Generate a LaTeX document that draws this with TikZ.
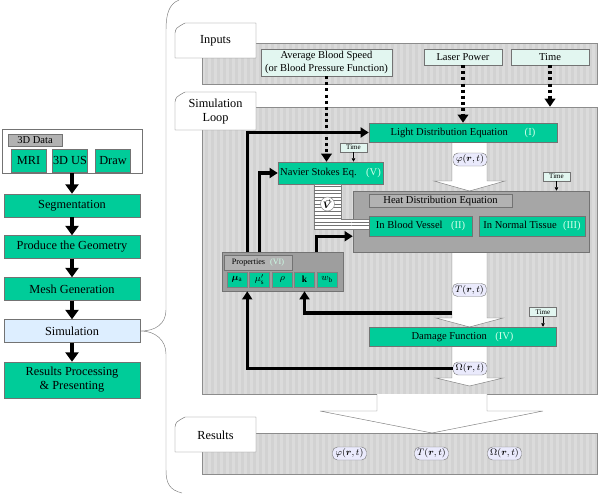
\documentclass[tikz,border=0pt]{standalone}
\usepackage{amsmath,amssymb,bm}
\usepackage{fontspec}
\setmainfont{Liberation Serif}
\usepackage{tikz}
\usetikzlibrary{arrows.meta,patterns}
\definecolor{boxgreen}{RGB}{0,204,153}
\definecolor{numwhite}{RGB}{205,255,232}
\definecolor{simblue}{RGB}{221,238,255}
\definecolor{bandgray}{RGB}{210,210,210}
\definecolor{inpfill}{RGB}{226,246,240}
\definecolor{lavender}{RGB}{234,234,252}

\begin{document}
\begin{tikzpicture}[x=0.3mm,y=-0.3mm,
    flowbox/.style={draw=black!55,fill=boxgreen,inner sep=0pt,minimum width=40.8mm,minimum height=6.9mm,font=\fontsize{10.5}{12}\selectfont},
    srcbox/.style={draw=black!55,fill=boxgreen,inner sep=0pt,minimum width=10.5mm,minimum height=6.9mm,font=\fontsize{10.5}{12}\selectfont},
    graylab/.style={draw=black!55,fill=black!30,inner sep=0pt,font=\fontsize{9}{10}\selectfont},
    greenbox/.style={draw=black!55,fill=boxgreen,inner sep=0pt,font=\fontsize{9}{10.5}\selectfont},
    inbox/.style={draw=black!55,fill=inpfill,inner sep=0pt,align=center,font=\fontsize{9}{10.5}\selectfont},
    timebox/.style={draw=black!55,fill=inpfill,inner sep=0pt,minimum width=8.1mm,minimum height=2.7mm,font=\fontsize{6}{7}\selectfont},
    band/.style={draw=black!45,fill=bandgray,inner sep=0pt,minimum width=118.5mm,
      path picture={\foreach \i in {0,...,70}{\fill[white,opacity=0.22] ([xshift=\i*1.8mm]path picture bounding box.south west) rectangle ++(0.8mm,90mm);}}},
    tabline/.style={draw=black!55,fill=white},
    tablabel/.style={font=\fontsize{10.5}{12.5}\selectfont,align=center,inner sep=0pt},
    lab/.style={draw=black!50,fill=lavender,rounded corners=1.5mm,inner sep=1pt,minimum width=10.2mm,minimum height=3.9mm,font=\fontsize{8}{9}\selectfont},
    pbox/.style={draw=black!50,fill=boxgreen,inner sep=0pt,minimum width=6mm,minimum height=4.5mm,font=\fontsize{8}{9}\selectfont},
    blockarrow/.style={draw=black!50,fill=white},
    flowarrow/.style={line width=3.6pt,-{Triangle[width=11pt,length=8pt]}},
    fb/.style={line width=2.8pt,-{Triangle[width=8.5pt,length=7pt]}},
    dotarrow/.style={line width=2.6pt,dash pattern=on 2.6pt off 2.6pt,-{Triangle[width=9pt,length=7pt]}},
    thinarrow/.style={line width=0.6pt,-{Triangle[width=3pt,length=3pt]}}]
  \useasboundingbox (0,0) rectangle (600,493);

  % left column
  \node[draw=black!55,fill=white,minimum width=42mm,minimum height=13.2mm] (data) at (72,151) {};
  \node[graylab,minimum width=16.2mm,minimum height=3.6mm] (datalab) at (35,140) {3D Data};
  \node[srcbox] (mri) at (28.5,160.5) {MRI};
  \node[srcbox] (us) at (70,160.5) {3D US};
  \node[srcbox] (drw) at (113,160.5) {Draw};
  \node[flowbox] (seg) at (72,205.5) {Segmentation};
  \node[flowbox] (geo) at (72,247) {Produce the Geometry};
  \node[flowbox] (mesh) at (72,289) {Mesh Generation};
  \node[flowbox,fill=simblue] (sim) at (72,331) {Simulation};
  \node[flowbox,minimum height=10.8mm,align=center] (res) at (72,380) {Results Processing\\\& Presenting};
  \draw[flowarrow] (data) -- (seg);
  \draw[flowarrow] (seg) -- (geo);
  \draw[flowarrow] (geo) -- (mesh);
  \draw[flowarrow] (mesh) -- (sim);
  \draw[flowarrow] (sim) -- (res);

  % brace
  \draw[black!50] (179,0) .. controls (169,4) and (166,14) .. (166,30) -- (166,310)
    .. controls (166,324) and (155,331) .. (141,331) .. controls (155,331) and (166,340) .. (166,354)
    -- (166,470) .. controls (166,484) and (170,490) .. (182,493);

  % bands
  \node[band,minimum height=12.3mm] (inband) at (399.5,63.5) {};
  \node[band,minimum height=86.1mm] (loopband) at (399.5,250.5) {};
  \draw[blockarrow] (377,394) -- (377,411) -- (320,411) -- (432,433) -- (543,411) -- (487,411) -- (487,394);
  \node[band,minimum height=12.3mm] (resband) at (399.5,453.5) {};

  % tabs
  \draw[tabline] (175,58) -- (175,33) .. controls (176,28) .. (185,23) -- (256,23) -- (256,58) -- cycle;
  \node[tablabel] (inputs) at (215.5,41) {Inputs};
  \draw[tabline] (175,130) -- (175,102) .. controls (176,97) .. (185,92) -- (256,92) -- (256,130) -- cycle;
  \node[tablabel] (looptab) at (215.5,111.5) {Simulation\\Loop};
  \draw[tabline] (175,452) -- (175,427) .. controls (176,422) .. (185,417) -- (256,417) -- (256,452) -- cycle;
  \node[tablabel] (restab) at (215.5,435) {Results};

  % inputs
  \node[inbox,minimum width=39.3mm,minimum height=8.1mm] (speed) at (326.5,62.5) {Average Blood Speed\\(or Blood Pressure Function)};
  \node[inbox,minimum width=23.4mm,minimum height=4.8mm] (laser) at (463,57) {Laser Power};
  \node[inbox,minimum width=23.4mm,minimum height=4.8mm] (tin) at (550,57) {Time};

  % white arrows in the loop
  \draw[blockarrow] (452,142) -- (452,181) -- (434,181) -- (469.5,191) -- (505,181) -- (487,181) -- (487,142);
  \draw[blockarrow] (452,252) -- (452,318) -- (436,318) -- (469.5,327) -- (503,318) -- (487,318) -- (487,252);
  \draw[blockarrow] (452,346) -- (452,378) -- (436,378) -- (469.5,386) -- (503,378) -- (487,378) -- (487,346);

  % loop boxes
  \node[greenbox,minimum width=56.4mm,minimum height=5.7mm] (lde) at (463,132.5)
    {Light Distribution Equation\hspace{1.6em}\textcolor{numwhite}{(I)}};
  \node[greenbox,minimum width=31.5mm,minimum height=6.6mm] (ns) at (330.5,173)
    {Navier Stokes Eq.\hspace{0.9em}\textcolor{numwhite}{(V)}};
  \node[draw=black!55,fill=black!35,minimum width=70.8mm,minimum height=18.3mm] (heat) at (471,221.5) {};
  \node[graylab,minimum width=42.9mm,minimum height=3.9mm] (heatlab) at (440.5,200.5) {Heat Distribution Equation};
  \draw[black!50,fill=white] (314,184) -- (314,229) -- (369,229) -- (369,219) -- (341,219) -- (341,184) -- cycle;
  \fill[pattern=horizontal lines,pattern color=black!55] (314,184) -- (314,229) -- (369,229) -- (369,219) -- (341,219) -- (341,184) -- cycle;
  \node[circle,draw=black!50,fill=white,inner sep=0.3pt,minimum size=4.2mm,font=\fontsize{8}{9}\selectfont] (vel) at (327.5,204) {$\vec{\bm{V}}$};
  \node[greenbox,minimum width=30.9mm,minimum height=6mm] (blood) at (420.5,226)
    {In Blood Vessel\hspace{0.8em}\textcolor{numwhite}{(II)}};
  \node[greenbox,minimum width=31.8mm,minimum height=6mm] (tissue) at (532,226)
    {In Normal Tissue\hspace{0.6em}\textcolor{numwhite}{(III)}};
  \node[greenbox,minimum width=56.1mm,minimum height=5.7mm] (damage) at (462.5,336.5)
    {Damage Function\hspace{0.8em}\textcolor{numwhite}{(IV)}};

  % properties
  \node[draw=black!55,fill=black!38,minimum width=36.3mm,minimum height=11.7mm] (props) at (282.5,271.5) {};
  \node[graylab,minimum width=20.4mm,minimum height=4.5mm,font=\fontsize{7}{8}\selectfont] (proplab) at (258,262.5)
    {Properties\hspace{0.6em}\textcolor{numwhite}{(VI)}};
  \node[pbox] (mua) at (237,279.5) {$\bm{\mu}_{\mathrm{a}}$};
  \node[pbox] (mus) at (259.5,279.5) {$\mu_{\mathrm{s}}'$};
  \node[pbox] (rho) at (282.5,279.5) {$\rho$};
  \node[pbox] (k) at (304.5,279.5) {$\mathbf{k}$};
  \node[pbox] (wb) at (327,279.5) {$w_{\mathrm{b}}$};

  % time boxes
  \node[timebox] (t1) at (353.5,147.5) {Time};
  \node[timebox] (t2) at (556.5,176.5) {Time};
  \node[timebox] (t3) at (543,312) {Time};
  \draw[thinarrow] (t1) -- (t1 |- ns.north);
  \draw[thinarrow] (t2) -- (t2 |- heat.north);
  \draw[thinarrow] (t3) -- (t3 |- damage.north);

  % labels on the arrows
  \node[lab] (philab) at (470,159.5) {$\varphi(\bm{r},t)$};
  \node[lab] (tlab) at (469.5,290) {$T(\bm{r},t)$};
  \node[lab] (omlab) at (470,368.5) {$\Omega(\bm{r},t)$};
  \coordinate (tfb) at (452,313);

  % input arrows
  \draw[dotarrow] (speed.south) -- (speed.south |- ns.north);
  \draw[dotarrow] (laser.south) -- (laser.south |- lde.north);
  \draw[dotarrow] (tin.south) -- (tin.south |- loopband.north);

  % feedback
  \draw[fb] (props.north -| mua.east) |- (lde.west);
  \draw[fb] (props.north -| mus) |- (ns.west);
  \draw[fb] (props.north -| wb.west) |- (heat.west |- blood.south);
  \draw[fb] (tfb) -| (props.south -| k);
  \draw[fb] (omlab.west) -| (props.south -| mua.east);

  % results
  \node[lab] (rphi) at (349.5,453.5) {$\varphi(\bm{r},t)$};
  \node[lab] (rt) at (431.5,453.5) {$T(\bm{r},t)$};
  \node[lab] (rom) at (504.5,453.5) {$\Omega(\bm{r},t)$};
\end{tikzpicture}
\end{document}
